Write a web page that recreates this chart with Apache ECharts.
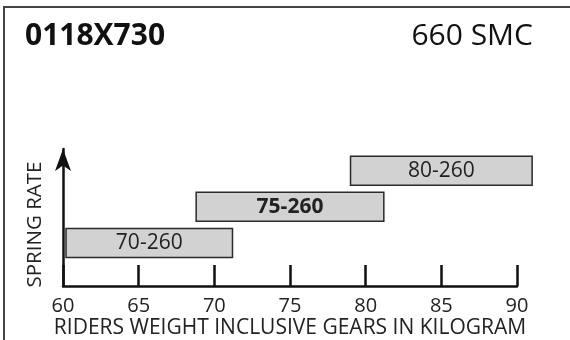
<!DOCTYPE html>
<html>
<head>
<meta charset="utf-8">
<script src="https://cdn.jsdelivr.net/npm/echarts@6/dist/echarts.min.js"></script>
<style>
  html, body { margin: 0; padding: 0; background: #fff; }
  #main { width: 570px; height: 340px; }
</style>
</head>
<body>
<div id="main"></div>
<script>
// range of each bar (kg) and its row on the spring-rate axis
var barLabels = ['70-260', '75-260', '80-260'];
var barStart = [60.2, 68.8, 79.0];
var barEnd = [71.2, 81.2, 91.0];
var barRow = [1.19, 2.2, 3.2];
var boldLabel = [false, true, false];
var xTicks = [60, 65, 70, 75, 80, 85, 90];

var FONT = '"Open Sans", "Noto Sans", sans-serif';
var myChart = echarts.init(document.getElementById('main'));

var data = [];
for (var i = 0; i < barLabels.length; i++) {
    data.push([barStart[i], barEnd[i], barRow[i], barLabels[i], boldLabel[i] ? 1 : 0]);
}

function renderBar(params, api) {
    var p0 = api.coord([api.value(0), api.value(2)]);
    var p1 = api.coord([api.value(1), api.value(2)]);
    var h = 29;
    return {
        type: 'rect',
        shape: {x: p0[0], y: p0[1] - h / 2, width: p1[0] - p0[0], height: h},
        style: {fill: '#d2d2d2', stroke: '#2a2a2a', lineWidth: 1.5},
        textContent: {
            style: {
                text: api.value(3),
                fontFamily: FONT,
                fontSize: 21,
                fontWeight: api.value(4) ? 'bold' : 'normal',
                fill: '#222'
            }
        },
        textConfig: {position: 'inside'}
    };
}

myChart.setOption({
    animation: false,
    title: [
        {
            text: '0118X730', left: 25, top: 21, padding: 0,
            textStyle: {fontFamily: FONT, fontSize: 30, fontWeight: 'bold', color: '#111'}
        },
        {
            text: '660 SMC', right: 37, top: 21, padding: 0,
            textStyle: {fontFamily: FONT, fontSize: 30, fontWeight: 'normal', color: '#111'}
        }
    ],
    graphic: [{
        type: 'polyline',
        shape: {points: [[4, 340], [4, 7], [570, 7]]},
        style: {stroke: '#444', lineWidth: 2, fill: null}
    }],
    grid: {left: 63, right: 53, top: 149, bottom: 49},
    xAxis: {
        type: 'value',
        min: xTicks[0],
        max: xTicks[xTicks.length - 1],
        interval: 5,
        name: 'RIDERS WEIGHT INCLUSIVE GEARS IN KILOGRAM',
        nameLocation: 'middle',
        nameGap: 32,
        nameTextStyle: {fontFamily: FONT, fontSize: 21, color: '#222'},
        axisLine: {lineStyle: {color: '#111', width: 2.5}},
        axisTick: {inside: true, length: 21, lineStyle: {color: '#111', width: 2.5}},
        axisLabel: {fontFamily: FONT, fontSize: 20, color: '#222', margin: 10},
        splitLine: {show: false}
    },
    yAxis: {
        type: 'value',
        min: 0,
        max: 3.8,
        name: 'SPRING RATE',
        nameLocation: 'middle',
        nameRotate: 90,
        nameGap: 17,
        nameTextStyle: {fontFamily: FONT, fontSize: 20.5, color: '#222', padding: [0, 14, 0, 0]},
        axisLine: {
            show: true,
            symbol: ['none', 'arrow'],
            symbolSize: [12, 22],
            lineStyle: {color: '#111', width: 2.5}
        },
        axisTick: {show: false},
        axisLabel: {show: false},
        splitLine: {show: false}
    },
    series: [{
        type: 'custom',
        renderItem: renderBar,
        encode: {x: [0, 1], y: 2},
        data: data
    }]
});
</script>
</body>
</html>
